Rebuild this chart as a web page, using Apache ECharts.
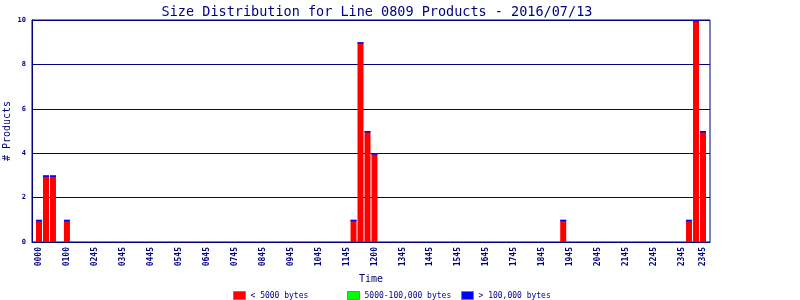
<!DOCTYPE html>
<html>
<head>
<meta charset="utf-8">
<script src="https://cdn.jsdelivr.net/npm/echarts@6/dist/echarts.min.js"></script>
<style>html,body{margin:0;padding:0;background:#fff}#c{width:800px;height:300px}</style>
</head>
<body>
<div id="c"></div>
<script>
// 15-minute bins that contain products
const binTimes = ["0000","0015","0030","0100","1115","1130","1145","1200","1845","2315","2330","2345"];
const smallCounts  = [1, 3, 3, 1, 1, 9, 5, 4, 1, 1, 10, 5];   // < 5000 bytes
const mediumCounts = [0, 0, 0, 0, 0, 0, 0, 0, 0, 0, 0, 0];    // 5000-100,000 bytes
const largeCounts  = [0, 0, 0, 0, 0, 0, 0, 0, 0, 0, 0, 0];    // > 100,000 bytes
// x-axis tick labels as printed, with the 15-minute bin each sits on
const tickLabels = ["0000","0100","0245","0345","0445","0545","0645","0745","0845","0945","1045","1145","1200","1345","1445","1545","1645","1745","1845","1945","2045","2145","2245","2345","2345"];
const tickBins   = [0,4,8,12,16,20,24,28,32,36,40,44,48,52,56,60,64,68,72,76,80,84,88,92,95];
const seriesNames = ["< 5000 bytes","5000-100,000 bytes","> 100,000 bytes"];
const seriesColors = ['#ff0000','#00ff00','#0000ff'];

const navy = '#000080';
const mono = 'DejaVu Sans Mono';
const toBin = t => parseInt(t.slice(0,2),10)*4 + parseInt(t.slice(2),10)/15;
const pairs = arr => arr.map((v,i)=>[toBin(binTimes[i]), v]);
// top of each stack (the zero-height ">100,000" segment is drawn there as a thin cap)
const stackTops = binTimes.map((t,i)=>[toBin(t), smallCounts[i]+mediumCounts[i]+largeCounts[i]]);

const legendLefts = [233, 347, 461];
const chart = echarts.init(document.getElementById('c'), null, {renderer:'canvas'});
chart.setOption({
  animation:false,
  backgroundColor:'#fff',
  title:{
    text:'Size Distribution for Line 0809 Products - 2016/07/13',
    left:372, top:0, textAlign:'center',
    textStyle:{fontFamily:mono, fontSize:13.5, fontWeight:'normal', color:navy}
  },
  grid:{left:32, right:90, top:20, bottom:58, containLabel:false, outerBoundsMode:'none',
        show:true, borderColor:navy, borderWidth:1, backgroundColor:'#fff'},
  legend: seriesNames.map((n,i)=>({
    data:[n], top:291, left:legendLefts[i], padding:0, itemGap:0, itemWidth:12, itemHeight:8, icon:'rect',
    itemStyle:{borderColor:'#808080', borderWidth:1},
    textStyle:{fontFamily:mono, fontSize:8, color:navy},
    selectedMode:false
  })),
  xAxis:{
    type:'value', min:-1, max:96,
    name:'Time', nameLocation:'middle', nameGap:31,
    nameTextStyle:{fontFamily:mono, fontSize:10, color:navy},
    axisLine:{onZero:false, lineStyle:{color:navy, width:1}},
    axisTick:{show:false},
    splitLine:{show:false},
    axisLabel:{
      customValues:tickBins, rotate:90, margin:5,
      fontFamily:mono, fontSize:8, fontWeight:'bold', color:navy,
      formatter:(v)=>{const i=tickBins.indexOf(v); return i>=0?tickLabels[i]:'';}
    }
  },
  yAxis:{
    type:'value', min:0, max:10, interval:2,
    name:'# Products', nameLocation:'middle', nameGap:20, nameRotate:90, nameMoveOverlap:false,
    nameTextStyle:{fontFamily:mono, fontSize:10, color:navy},
    axisLine:{show:true, onZero:false, lineStyle:{color:navy, width:1}},
    axisTick:{show:false},
    splitLine:{lineStyle:{color:navy, width:1}},
    axisLabel:{fontFamily:mono, fontSize:7, fontWeight:'bold', color:navy, margin:6}
  },
  series:[
    {name:seriesNames[0], type:'bar', stack:'s', barWidth:6, data:pairs(smallCounts),
     itemStyle:{color:seriesColors[0]}},
    {name:seriesNames[1], type:'bar', stack:'s', barWidth:6, data:pairs(mediumCounts),
     itemStyle:{color:seriesColors[1]}},
    {name:seriesNames[2], type:'bar', stack:'s', barWidth:6, data:pairs(largeCounts),
     itemStyle:{color:seriesColors[2]}},
    {type:'custom', data:stackTops, z:5, silent:true,
     renderItem:(params, api)=>{
       const p = api.coord([api.value(0), api.value(1)]);
       return {type:'rect', shape:{x:p[0]-3, y:p[1], width:6, height:1.5},
               style:{fill:seriesColors[2]}};
     }}
  ]
});
</script>
</body>
</html>
